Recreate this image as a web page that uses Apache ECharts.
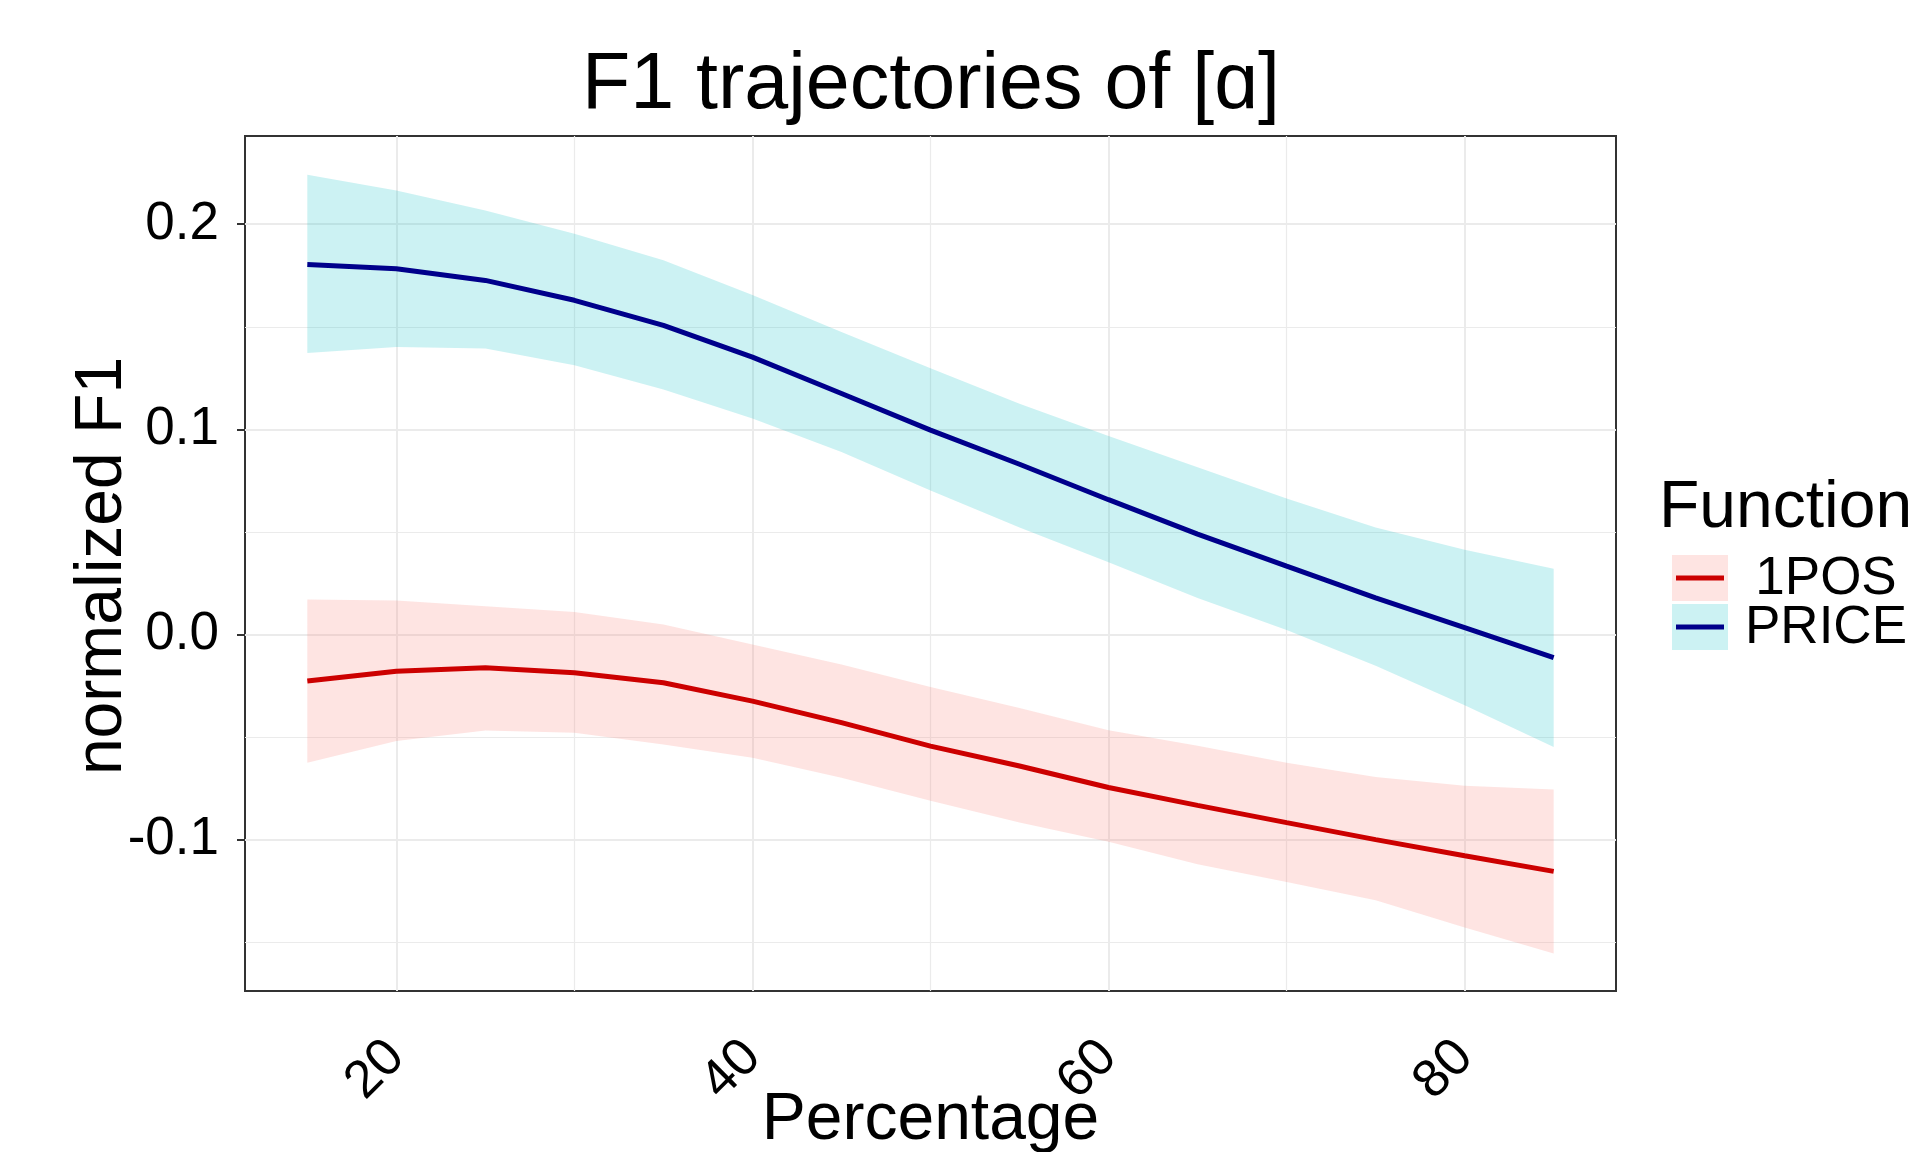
<!DOCTYPE html>
<html>
<head>
<meta charset="utf-8">
<script src="https://cdn.jsdelivr.net/npm/echarts@6/dist/echarts.min.js"></script>
<style>
  html, body { margin: 0; padding: 0; background: #fff; }
  #chart { width: 1921px; height: 1152px; }
</style>
</head>
<body>
<div id="chart"></div>
<script>
// ---- data ----
const pct = [15, 20, 25, 30, 35, 40, 45, 50, 55, 60, 65, 70, 75, 80, 85];

const priceFit   = [0.1803, 0.1783, 0.1726, 0.1629, 0.1507, 0.1352, 0.1175, 0.0996, 0.0830, 0.0657, 0.0489, 0.0333, 0.0178, 0.0033, -0.0113];
const priceUpper = [0.2241, 0.2164, 0.2067, 0.1954, 0.1824, 0.1655, 0.1475, 0.1298, 0.1125, 0.0967, 0.0815, 0.0663, 0.0522, 0.0413, 0.0320];
const priceLower = [0.1372, 0.1402, 0.1394, 0.1313, 0.1194, 0.1053, 0.0890, 0.0702, 0.0522, 0.0352, 0.0178, 0.0022, -0.0152, -0.0345, -0.0548];

const posFit   = [-0.0227, -0.0179, -0.0162, -0.0187, -0.0235, -0.0325, -0.0430, -0.0544, -0.0641, -0.0746, -0.0833, -0.0917, -0.1000, -0.1079, -0.1155];
const posUpper = [0.0170, 0.0166, 0.0138, 0.0109, 0.0049, -0.0049, -0.0146, -0.0256, -0.0359, -0.0467, -0.0543, -0.0625, -0.0695, -0.0737, -0.0756];
const posLower = [-0.0625, -0.0519, -0.0468, -0.0479, -0.0536, -0.0601, -0.0698, -0.0810, -0.0917, -0.1011, -0.1120, -0.1207, -0.1295, -0.1428, -0.1555];

const xTicks = [20, 40, 60, 80];
const xMinor = [30, 50, 70];
const yTicks = [-0.1, 0, 0.1, 0.2];
const yMinor = [-0.15, -0.05, 0.05, 0.15];

const seriesNames = ['1POS', 'PRICE'];
const titleText = 'F1 trajectories of [ɑ]';
const xTitle = 'Percentage';
const yTitle = 'normalized F1';
const legendTitle = 'Function';

// ---- styling ----
const FONT = '"Liberation Sans", Arial, Helvetica, sans-serif';
const lineColors = ['#CC0000', '#00008B'];
const fillColors = ['#F8766D', '#00BFC4'];
const FILL_OPACITY = 0.2;

const pairs = (ys) => pct.map((x, i) => [x, ys[i]]);

const grid = { left: 245, right: 305, top: 136, bottom: 161 };

// ribbon (confidence band) as one polygon built through the axes' scales
function bandSeries(name, lower, upper, color) {
  return {
    name: name + '-band', type: 'custom', silent: true, z: 2,
    data: pct.map((x, i) => [x, lower[i], upper[i]]),
    encode: { x: 0, y: [1, 2] },
    renderItem: function (params, api) {
      if (params.dataIndex !== 0) return null;
      const pts = [];
      for (let i = 0; i < pct.length; i++) pts.push(api.coord([pct[i], upper[i]]));
      for (let i = pct.length - 1; i >= 0; i--) pts.push(api.coord([pct[i], lower[i]]));
      return {
        type: 'polygon',
        shape: { points: pts },
        style: { fill: color, opacity: FILL_OPACITY, stroke: null }
      };
    }
  };
}

const gridLines = [];
xTicks.forEach(v => gridLines.push({ xAxis: v, lineStyle: { color: '#EBEBEB', width: 2, type: 'solid' } }));
xMinor.forEach(v => gridLines.push({ xAxis: v, lineStyle: { color: '#EBEBEB', width: 1.2, type: 'solid' } }));
yTicks.forEach(v => gridLines.push({ yAxis: v, lineStyle: { color: '#EBEBEB', width: 2, type: 'solid' } }));
yMinor.forEach(v => gridLines.push({ yAxis: v, lineStyle: { color: '#EBEBEB', width: 1.2, type: 'solid' } }));

const series = [
  {
    name: 'grid', type: 'line', data: [], silent: true, z: 1,
    markLine: { silent: true, z: 1, symbol: ['none', 'none'], label: { show: false },
      animation: false, data: gridLines }
  },
  bandSeries(seriesNames[0], posLower, posUpper, fillColors[0]),
  bandSeries(seriesNames[1], priceLower, priceUpper, fillColors[1]),
  {
    name: seriesNames[0], type: 'line', data: pairs(posFit), symbol: 'none', z: 3,
    lineStyle: { color: lineColors[0], width: 5, cap: 'butt' }
  },
  {
    name: seriesNames[1], type: 'line', data: pairs(priceFit), symbol: 'none', z: 3,
    lineStyle: { color: lineColors[1], width: 5, cap: 'butt' }
  }
];

// legend drawn as graphic keys (fill box + line), like the reference
const legendX = 1672, keyW = 56, keyH = 46;
const keyTops = [555, 604];
const legendGraphics = [
  { type: 'text', x: 1659, y: 509, style: { text: legendTitle, font: '66px ' + FONT, fill: '#000', textAlign: 'left', textVerticalAlign: 'middle' } }
];
seriesNames.forEach((n, i) => {
  legendGraphics.push({ type: 'rect', shape: { x: legendX, y: keyTops[i], width: keyW, height: keyH },
    style: { fill: fillColors[i], opacity: FILL_OPACITY } });
  legendGraphics.push({ type: 'line', shape: { x1: legendX + 4, y1: keyTops[i] + keyH / 2, x2: legendX + keyW - 4, y2: keyTops[i] + keyH / 2 },
    style: { stroke: lineColors[i], lineWidth: 5 } });
  legendGraphics.push({ type: 'text', x: 1826, y: keyTops[i] + keyH / 2 + 1, style: { text: n, font: '53px ' + FONT, fill: '#000', textAlign: 'center', textVerticalAlign: 'middle' } });
});

const option = {
  animation: false,
  backgroundColor: '#fff',
  grid: Object.assign({ show: true, borderColor: '#333', borderWidth: 2, backgroundColor: 'transparent', containLabel: false }, grid),
  xAxis: {
    type: 'value', min: 11.5, max: 88.5,
    axisLine: { show: false },
    splitLine: { show: false },
    axisTick: { show: true, customValues: xTicks, length: 8, lineStyle: { color: '#333', width: 2 } },
    axisLabel: { customValues: xTicks, rotate: 45, margin: 58, fontSize: 53, fontFamily: FONT, color: '#000' }
  },
  yAxis: {
    type: 'value', min: -0.1738, max: 0.243,
    axisLine: { show: false },
    splitLine: { show: false },
    axisTick: { show: true, customValues: yTicks, length: 8, lineStyle: { color: '#333', width: 2 } },
    axisLabel: { customValues: yTicks, margin: 26, fontSize: 53, fontFamily: FONT, color: '#000',
      formatter: v => Number(v).toFixed(1) }
  },
  series: series,
  graphic: [
    { type: 'text', x: 931, y: 86, style: { text: titleText, font: '79px ' + FONT, fill: '#000', textAlign: 'center', textVerticalAlign: 'middle' } },
    { type: 'text', x: 930.5, y: 1121, style: { text: xTitle, font: '66px ' + FONT, fill: '#000', textAlign: 'center', textVerticalAlign: 'middle' } },
    { type: 'text', x: 103, y: 566, rotation: Math.PI / 2, style: { text: yTitle, font: '66px ' + FONT, fill: '#000', textAlign: 'center', textVerticalAlign: 'middle' } },
    ...legendGraphics
  ]
};

const chart = echarts.init(document.getElementById('chart'), null, { renderer: 'canvas' });
chart.setOption(option);
</script>
</body>
</html>
